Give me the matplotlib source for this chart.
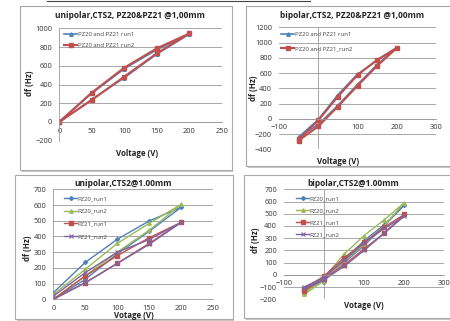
import matplotlib
matplotlib.use("Agg")
import matplotlib.pyplot as plt
from matplotlib.patches import Rectangle
from matplotlib.lines import Line2D

plt.rcParams['font.family'] = ['Open Sans', 'DejaVu Sans']

W, H = 450, 321

# ---------------- data ----------------
tl_title = "unipolar,CTS2, PZ20&PZ21 @1,00mm"
tl_V = [0, 50, 100, 150, 200, 150, 100, 50, 0]
tl_run1 = [0, 240, 472, 725, 938, 772, 568, 305, 5]
tl_run2 = [0, 235, 484, 733, 945, 786, 580, 314, 0]
tl_labels = ["PZ20 and PZ21 run1", "PZ20 and PZ21 run2"]
tl_xticks = [0, 50, 100, 150, 200, 250]
tl_yticks = [-200, 0, 200, 400, 600, 800, 1000]

tr_title = "bipolar,CTS2, PZ20&PZ21 @1,00mm"
tr_V = [-50, 0, 50, 100, 150, 200, 150, 100, 50, 0, -50]
tr_run1 = [-245, -75, 175, 450, 710, 935, 765, 585, 315, -10, -240]
tr_run2 = [-285, -100, 161, 433, 695, 927, 774, 573, 292, -22, -270]
tr_labels = ["PZ20 and PZ21 run1", "PZ20 and PZ21_run2"]
tr_xticks = [-100, 0, 100, 200, 300]
tr_yticks = [-400, -200, 0, 200, 400, 600, 800, 1000, 1200]

bl_title = "unipolar,CTS2@1.00mm"
bl_V = [0, 50, 100, 150, 200, 150, 100, 50, 0]
bl_pz20_run1 = [0, 127, 290, 433, 586, 499, 382, 235, 42]
bl_pz20_run2 = [0, 150, 300, 440, 605, 484, 356, 191, 30]
bl_pz21_run1 = [0, 106, 229, 356, 490, 392, 278, 148, 0]
bl_pz21_run2 = [0, 105, 228, 350, 490, 380, 300, 170, 20]
bl_xticks = [0, 50, 100, 150, 200, 250]
bl_yticks = [0, 100, 200, 300, 400, 500, 600, 700]

br_title = "bipolar,CTS2@1.00mm"
br_V = [-50, 0, 50, 100, 150, 200, 150, 100, 50, 0, -50]
br_pz20_run1 = [-140, -40, 100, 240, 400, 570, 410, 280, 120, -20, -130]
br_pz20_run2 = [-160, -50, 110, 250, 400, 590, 450, 322, 169, -20, -150]
br_pz21_run1 = [-130, -30, 82, 213, 341, 494, 390, 267, 139, -10, -115]
br_pz21_run2 = [-110, -40, 70, 200, 340, 480, 380, 260, 120, -20, -100]
br_xticks = [-100, 0, 100, 200, 300]
br_yticks = [-200, -100, 0, 100, 200, 300, 400, 500, 600, 700]

quad_labels = ["PZ20_run1", "PZ20_run2", "PZ21_run1", "PZ21_run2"]

BLUE, RED, GREEN, PURPLE = "#4F81BD", "#C0504D", "#9BBB59", "#8064A2"
GRID = "#9a9a9a"

fig = plt.figure(figsize=(W / 100, H / 100), dpi=100)


def fx(x):
    return x / W


def fy(y):
    return 1 - y / H


def panel(l, t, r, b):
    fig.patches.append(Rectangle((fx(l + 1.5), fy(b + 1.5)), fx(r - l), (b - t) / H,
                                 transform=fig.transFigure, facecolor="#c8c8c8",
                                 edgecolor="none", zorder=-3))
    fig.patches.append(Rectangle((fx(l), fy(b)), fx(r - l), (b - t) / H,
                                 transform=fig.transFigure, facecolor="white",
                                 edgecolor="#a8a8a8", lw=0.8, zorder=-2))


panel(20, 6, 232, 170)
panel(246, 6, 452, 166)
panel(15, 175, 233, 319)
panel(244, 175, 452, 318)

fig.add_artist(Line2D([fx(47), fx(310)], [fy(0.6), fy(0.6)], color="#444444", lw=0.8))


def make_axes(l, r, t, b, xlim, ylim, xticks, yticks, move_left):
    ax = fig.add_axes([fx(l), fy(b), fx(r - l), (b - t) / H])
    ax.set_facecolor("none")
    ax.set_xlim(*xlim)
    ax.set_ylim(*ylim)
    ax.set_xticks(xticks)
    ax.set_yticks(yticks)
    ax.yaxis.grid(True, color=GRID, lw=0.6)
    ax.set_axisbelow(True)
    for s in ["top", "right"]:
        ax.spines[s].set_visible(False)
    ax.spines["bottom"].set_position(("data", 0))
    ax.spines["bottom"].set_color(GRID)
    ax.spines["bottom"].set_linewidth(0.6)
    if move_left:
        ax.spines["left"].set_position(("data", 0))
        ax.spines["left"].set_color(GRID)
        ax.spines["left"].set_linewidth(0.6)
    else:
        ax.spines["left"].set_visible(False)
        ax.axvline(0, color=GRID, lw=0.6, zorder=1)
    ax.tick_params(axis="x", length=0, pad=4, labelsize=5.4, colors="#333333")
    ax.tick_params(axis="y", length=0, pad=5, labelsize=5.4, colors="#333333")
    return ax


def texts(title, tx, ty, xlabel, xx, xy, ylx, yly):
    fig.text(fx(tx), fy(ty), title, ha="center", va="center", fontsize=6,
             fontweight="bold", color="#222222")
    fig.text(fx(xx), fy(xy), xlabel, ha="center", va="center", fontsize=5.7,
             fontweight="bold", color="#222222")
    fig.text(fx(ylx), fy(yly), "df (Hz)", ha="center", va="center", fontsize=5.7,
             fontweight="bold", color="#222222", rotation=90)


def legend(ax, lx, ly, spacing):
    ax.legend(loc="upper left", bbox_to_anchor=(fx(lx), fy(ly)),
              bbox_transform=fig.transFigure, frameon=False, fontsize=4.3,
              handlelength=2.2, handletextpad=0.1, labelspacing=spacing,
              borderaxespad=0, borderpad=0, labelcolor="#444444")


# ---- top-left ----
ax1 = make_axes(59.3, 221.8, 28.3, 140.7, (0, 250), (-200, 1000), tl_xticks, tl_yticks, True)
ax1.plot(tl_V, tl_run1, color=BLUE, marker="^", ms=2.5, lw=1.2, label=tl_labels[0])
ax1.plot(tl_V, tl_run2, color=RED, marker="s", ms=3, lw=1.5, label=tl_labels[1])
legend(ax1, 64, 31.5, 1.05)
texts(tl_title, 130, 16, "Voltage (V)", 137, 153.5, 29, 83)

# ---- top-right ----
ax2 = make_axes(279, 436, 27.3, 149.3, (-100, 300), (-400, 1200), tr_xticks, tr_yticks, False)
ax2.plot(tr_V, tr_run1, color=BLUE, marker="^", ms=2.5, lw=1.2, label=tr_labels[0])
ax2.plot(tr_V, tr_run2, color=RED, marker="s", ms=3, lw=1.5, label=tr_labels[1])
legend(ax2, 281, 31.5, 1.6)
texts(tr_title, 352, 16, "Voltage (V)", 338, 162, 254, 88)

# ---- bottom-left ----
ax3 = make_axes(53.3, 213.3, 189.3, 299.3, (0, 250), (0, 700), bl_xticks, bl_yticks, True)
ax3.plot(bl_V, bl_pz20_run1, color=BLUE, marker="D", ms=2, lw=1.0, label=quad_labels[0])
ax3.plot(bl_V, bl_pz20_run2, color=GREEN, marker="^", ms=2.5, lw=1.0, label=quad_labels[1])
ax3.plot(bl_V, bl_pz21_run1, color=RED, marker="s", ms=2.5, lw=1.0, label=quad_labels[2])
ax3.plot(bl_V, bl_pz21_run2, color=PURPLE, marker="x", ms=2.5, mew=0.8, lw=1.0, label=quad_labels[3])
legend(ax3, 64, 196, 1.25)
texts(bl_title, 123, 184, "Votage (V)", 134, 315, 28, 248)

# ---- bottom-right ----
ax4 = make_axes(284, 444.3, 189.3, 299.3, (-100, 300), (-200, 700), br_xticks, br_yticks, False)
ax4.plot(br_V, br_pz20_run1, color=BLUE, marker="D", ms=2, lw=1.0, label=quad_labels[0])
ax4.plot(br_V, br_pz20_run2, color=GREEN, marker="^", ms=2.5, lw=1.0, label=quad_labels[1])
ax4.plot(br_V, br_pz21_run1, color=RED, marker="s", ms=2.5, lw=1.0, label=quad_labels[2])
ax4.plot(br_V, br_pz21_run2, color=PURPLE, marker="x", ms=2.5, mew=0.8, lw=1.0, label=quad_labels[3])
legend(ax4, 296, 196, 1.15)
texts(br_title, 353, 184, "Votage (V)", 364, 305.7, 255, 240)

fig.savefig("out.png", dpi=100)
